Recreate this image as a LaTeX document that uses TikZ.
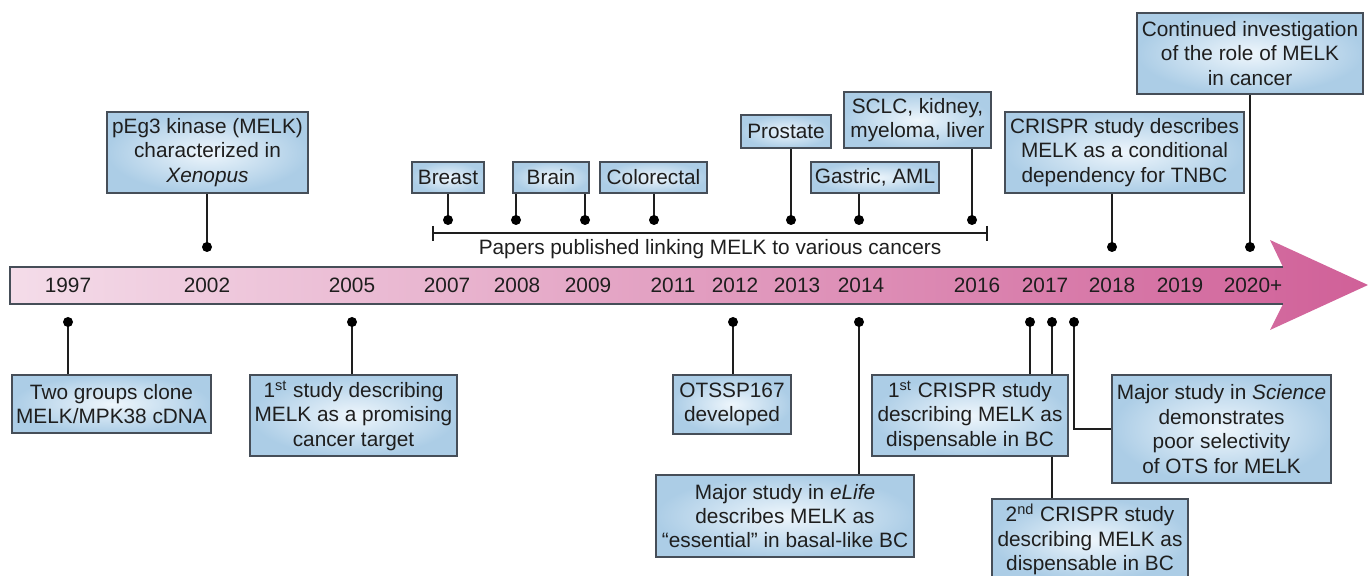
\documentclass[tikz,border=0pt]{standalone}
\usepackage{fontspec}
\setmainfont{Liberation Sans}
\definecolor{boxin}{RGB}{238,246,252}
\definecolor{boxout}{RGB}{172,205,230}
\definecolor{boxline}{RGB}{70,78,88}
\definecolor{barleft}{RGB}{244,220,233}
\definecolor{barright}{RGB}{208,96,152}
\definecolor{ink}{RGB}{30,30,30}
\begin{document}
\begin{tikzpicture}[x=0.5pt,y=-0.5pt,
    every node/.style={font=\fontsize{10.4}{12.2}\selectfont, text=ink},
    event/.style={draw=boxline, line width=0.6pt, inner color=boxin, outer color=boxout, align=center, inner sep=0pt},
    stem/.style={draw=ink, line width=0.8pt}]
    \useasboundingbox (0,0) rectangle (1369,576);
    \shade[left color=barleft, right color=barright] (10,267) -- (1283,267) -- (1270,240) -- (1368,285) -- (1270,330) -- (1283,304) -- (10,304) -- cycle;
    \draw[boxline, line width=0.6pt] (1283,267) -- (10,267) -- (10,304) -- (1283,304);
    \foreach \yr/\xx in {1997/68, 2002/207, 2005/352, 2007/447, 2008/517, 2009/588, 2011/673, 2012/735, 2013/797, 2014/861, 2016/977, 2017/1045, 2018/1112, 2019/1180}
        \node (y\yr) at (\xx,285) {\yr};
    \node (ylast) at (1253,285) {2020+};
    \node[event, minimum width=113pt, minimum height=40.5pt] (cont) at (1250,53.5) {Continued investigation\\of the role of MELK\\in cancer};
    \node[event, minimum width=119.5pt, minimum height=40.5pt] (crispr18) at (1124.5,152.5) {CRISPR study describes\\MELK as a conditional\\dependency for TNBC};
    \node[event, minimum width=100.5pt, minimum height=40.5pt] (peg) at (207.5,152.5) {pEg3 kinase (MELK)\\characterized in\\\textit{Xenopus}};
    \node[event, minimum width=36pt, minimum height=15.5pt] (breast) at (448,177.5) {Breast};
    \node[event, minimum width=38pt, minimum height=15.5pt] (brain) at (551,177.5) {Brain};
    \node[event, minimum width=53.5pt, minimum height=15.5pt] (colo) at (653.5,177.5) {Colorectal};
    \node[event, minimum width=45pt, minimum height=16.5pt] (prost) at (786,131.5) {Prostate};
    \node[event, minimum width=64pt, minimum height=15.5pt] (gast) at (875,177.5) {Gastric, AML};
    \node[event, minimum width=73.5pt, minimum height=28pt] (sclc) at (917.5,120) {SCLC, kidney,\\myeloma, liver};
    \node[event, minimum width=99.5pt, minimum height=29pt] (clone) at (111.5,404) {Two groups clone\\MELK/MPK38 cDNA};
    \node[event, minimum width=103.5pt, minimum height=40.5pt] (first) at (353.5,415.5) {1\textsuperscript{st} study describing\\MELK as a promising\\cancer target};
    \node[event, minimum width=59pt, minimum height=29.5pt] (ots) at (732,404.5) {OTSSP167\\developed};
    \node[event, minimum width=129pt, minimum height=41pt] (elife) at (785,516) {Major study in \textit{eLife}\\describes MELK as\\``essential'' in basal-like BC};
    \node[event, minimum width=98pt, minimum height=40.5pt] (crispra) at (970,415.5) {1\textsuperscript{st} CRISPR study\\describing MELK as\\dispensable in BC};
    \node[event, minimum width=98pt, minimum height=40.5pt] (crisprb) at (1090,539.5) {2\textsuperscript{nd} CRISPR study\\describing MELK as\\dispensable in BC};
    \node[event, minimum width=109.5pt, minimum height=54pt] (sci) at (1221.5,429) {Major study in \textit{Science}\\demonstrates\\poor selectivity\\of OTS for MELK};
    \foreach \name/\xx/\yy in {p02/207/247, pbr/448/220, pbn1/516/220, pbn2/585/220, pco/654/220, ppr/791/220, pga/859/220, psc/972/220, p18/1112/247, p20/1250/247, p97/68/322, p05/352/322, p12/733/322, p14/859/322, p17a/1030/322, p17b/1052/322, p17c/1074/322}
        \coordinate (\name) at (\xx,\yy);
    \draw[stem] (p02) -- (p02 |- peg.south);
    \draw[stem] (pbr) -- (pbr |- breast.south);
    \draw[stem] (pbn1) -- (pbn1 |- brain.south);
    \draw[stem] (pbn2) -- (pbn2 |- brain.south);
    \draw[stem] (pco) -- (pco |- colo.south);
    \draw[stem] (ppr) -- (ppr |- prost.south);
    \draw[stem] (pga) -- (pga |- gast.south);
    \draw[stem] (psc) -- (psc |- sclc.south);
    \draw[stem] (p18) -- (p18 |- crispr18.south);
    \draw[stem] (p20) -- (p20 |- cont.south);
    \draw[stem] (p97) -- (p97 |- clone.north);
    \draw[stem] (p05) -- (p05 |- first.north);
    \draw[stem] (p12) -- (p12 |- ots.north);
    \draw[stem] (p14) -- (p14 |- elife.north);
    \draw[stem] (p17a) -- (p17a |- crispra.north);
    \draw[stem] (p17b) -- (p17b |- crispra.north);
    \draw[stem] (p17b |- crispra.south) -- (p17b |- crisprb.north);
    \draw[stem] (p17c) |- (sci.west);
    \foreach \p in {p02, pbr, pbn1, pbn2, pco, ppr, pga, psc, p18, p20, p97, p05, p12, p14, p17a, p17b, p17c}
        \fill (\p) circle (5);
    \coordinate (bl) at (433,233);
    \coordinate (br) at (987,233);
    \draw[stem] (bl) -- (br);
    \draw[stem] (bl) ++(0,-7) -- ++(0,15);
    \draw[stem] (br) ++(0,-7) -- ++(0,15);
    \node (papers) at (710,249) {Papers published linking MELK to various cancers};
\end{tikzpicture}
\end{document}
